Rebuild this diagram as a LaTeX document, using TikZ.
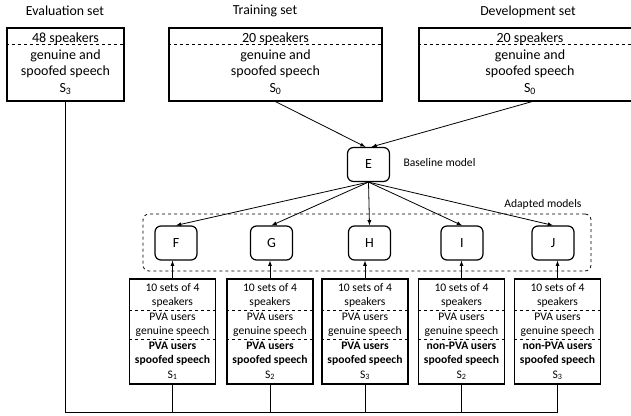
\documentclass[tikz,border=0pt]{standalone}
\usepackage{fontspec}
\setmainfont{Carlito}
\begin{document}
\begin{tikzpicture}[x=1pt,y=-1pt,
	setbox/.style={draw,line width=1.2pt,minimum width=213pt,minimum height=73pt,inner sep=0pt},
	model/.style={draw,line width=1.2pt,rounded corners=6pt,minimum width=42pt,minimum height=34pt,font=\fontsize{14}{16}\selectfont},
	adaptbox/.style={draw,line width=1.2pt,minimum width=86pt,minimum height=105pt,inner sep=0pt},
	title/.style={font=\fontsize{13.8}{16}\selectfont},
	settext/.style={align=center,font=\fontsize{14}{16.5}\selectfont},
	adapttext/.style={align=center,font=\fontsize{11.6}{14.5}\selectfont},
	small/.style={font=\fontsize{11.6}{14}\selectfont},
	sep/.style={dashed,line width=0.8pt},
	link/.style={-latex,line width=0.8pt}]

	\useasboundingbox (0,0) rectangle (631,415);

	% the three data sets
	\node[title] (evaltitle) at (65,11) {Evaluation set};
	\node[title] (traintitle) at (265,11) {Training set};
	\node[title] (devtitle) at (528,12) {Development set};

	\node[setbox,minimum width=117pt] (eval) at (65.5,64.5) {};
	\node[settext] (evaltxt) at (65.5,64) {48 speakers\\genuine and\\spoofed speech\\S\textsubscript{3}};
	\draw[sep] ([yshift=20.5pt]eval.west) -- ([yshift=20.5pt]eval.east);

	\node[setbox] (train) at (275.5,64.5) {};
	\node[settext] (traintxt) at (275.5,64) {20 speakers\\genuine and\\spoofed speech\\S\textsubscript{0}};
	\draw[sep] ([yshift=20.5pt]train.west) -- ([yshift=20.5pt]train.east);

	\node[setbox,minimum width=224pt] (dev) at (531,64.5) {};
	\node[settext] (devtxt) at (530,64) {20 speakers\\genuine and\\spoofed speech\\S\textsubscript{0}};
	\draw[sep] ([yshift=20.5pt]dev.west) -- ([yshift=20.5pt]dev.east);

	% models
	\node[model] (E) at (368.5,164.5) {E};
	\node[small,anchor=west] (baseline) at (400,163) {Baseline model};

	\draw[link] (train.south) -- ([xshift=-3pt]E.north);
	\draw[link] ([xshift=1pt]dev.south) -- ([xshift=3pt]E.north);

	\node[draw,dashed,line width=0.8pt,rounded corners=6pt,minimum width=448pt,minimum height=57pt] (adapted) at (367,242.5) {};
	\node[small,anchor=east] (adaptlbl) at (585,204) {Adapted models};

	\node[model] (F) at (176,243) {F};
	\node[model] (G) at (271.5,243) {G};
	\node[model] (H) at (369.5,243) {H};
	\node[model] (I) at (462,243) {I};
	\node[model] (J) at (553,243) {J};

	\foreach \m in {F,G,H,I,J}
		\draw[link] (E.south) -- (\m.north);

	% adaptation sets
	\coordinate (bus) at (64.5,412);
	\draw[line width=0.8pt] (eval.south) -- (eval.south |- bus) -- (557.5,412);

	\foreach \n/\x/\m/\who/\s in {1/172.5/F/PVA users/1,2/270/G/PVA users/2,3/365/H/PVA users/3,4/461.5/I/non-PVA users/2,5/557.5/J/non-PVA users/3} {
		\node[adaptbox] (b\n) at (\x,331.5) {};
		\node[adapttext] (b\n txt) at (\x,331.5) {10 sets of 4\\speakers\\PVA users\\genuine speech\\\textbf{\who}\\\textbf{spoofed speech}\\S\textsubscript{\s}};
		\draw[sep] ([yshift=21.5pt]b\n.west) -- ([yshift=21.5pt]b\n.east);
		\draw[sep] ([yshift=-7.5pt]b\n.west) -- ([yshift=-7.5pt]b\n.east);
		\draw[link] (b\n.north) -- (b\n.north |- \m.south);
		\draw[line width=0.8pt] (b\n.south) -- (b\n.south |- bus);
	}

\end{tikzpicture}
\end{document}
